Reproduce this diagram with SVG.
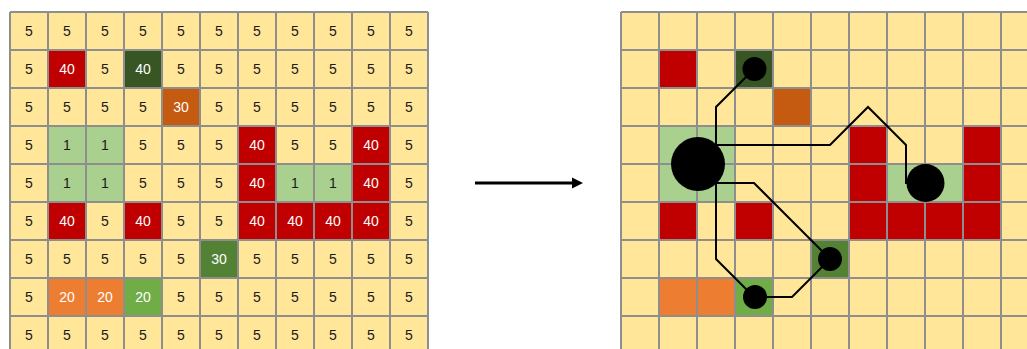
<svg xmlns="http://www.w3.org/2000/svg" width="1027" height="349" viewBox="0 0 1027 349">
<style>
.bg{fill:#FFE699}
.grid{stroke:#8E8E8E;stroke-width:2;fill:none}
.red{fill:#C00000}.dg{fill:#375623}.br{fill:#C55A11}.lg{fill:#A9D08E}.g30{fill:#548235}.or{fill:#ED7D31}.g20{fill:#70AD47}
text{font-family:"Liberation Sans",Arial,sans-serif;font-size:14px;text-anchor:middle;fill:#1a1a1a}
text.w{fill:#ffffff}
.ln{stroke:#000;stroke-width:2;fill:none;stroke-linejoin:miter}
</style>
<defs>
<g id="cells">
<rect class="red" x="48" y="50" width="38" height="38"/>
<rect class="dg" x="124" y="50" width="38" height="38"/>
<rect class="br" x="162" y="88" width="38" height="38"/>
<rect class="lg" x="48" y="126" width="76" height="76"/>
<rect class="red" x="238" y="126" width="38" height="114"/>
<rect class="red" x="352" y="126" width="38" height="114"/>
<rect class="lg" x="276" y="164" width="76" height="38"/>
<rect class="red" x="276" y="202" width="76" height="38"/>
<rect class="red" x="48" y="202" width="38" height="38"/>
<rect class="red" x="124" y="202" width="38" height="38"/>
<rect class="g30" x="200" y="240" width="38" height="38"/>
<rect class="or" x="48" y="278" width="76" height="38"/>
<rect class="g20" x="124" y="278" width="38" height="38"/>
</g>
<path id="lines" class="grid" d="M10 12V354M48 12V354M86 12V354M124 12V354M162 12V354M200 12V354M238 12V354M276 12V354M314 12V354M352 12V354M390 12V354M428 12V354M10 12H428M10 50H428M10 88H428M10 126H428M10 164H428M10 202H428M10 240H428M10 278H428M10 316H428M10 354H428"/>
</defs>
<g id="grid-left">
<rect class="bg" x="10" y="12" width="418" height="342"/>
<use href="#cells"/>
<use href="#lines"/>
<g id="values">
<text x="29" y="36">5</text><text x="67" y="36">5</text><text x="105" y="36">5</text><text x="143" y="36">5</text><text x="181" y="36">5</text><text x="219" y="36">5</text><text x="257" y="36">5</text><text x="295" y="36">5</text><text x="333" y="36">5</text><text x="371" y="36">5</text><text x="409" y="36">5</text>
<text x="29" y="74">5</text><text class="w" x="67" y="74">40</text><text x="105" y="74">5</text><text class="w" x="143" y="74">40</text><text x="181" y="74">5</text><text x="219" y="74">5</text><text x="257" y="74">5</text><text x="295" y="74">5</text><text x="333" y="74">5</text><text x="371" y="74">5</text><text x="409" y="74">5</text>
<text x="29" y="112">5</text><text x="67" y="112">5</text><text x="105" y="112">5</text><text x="143" y="112">5</text><text class="w" x="181" y="112">30</text><text x="219" y="112">5</text><text x="257" y="112">5</text><text x="295" y="112">5</text><text x="333" y="112">5</text><text x="371" y="112">5</text><text x="409" y="112">5</text>
<text x="29" y="150">5</text><text x="67" y="150">1</text><text x="105" y="150">1</text><text x="143" y="150">5</text><text x="181" y="150">5</text><text x="219" y="150">5</text><text class="w" x="257" y="150">40</text><text x="295" y="150">5</text><text x="333" y="150">5</text><text class="w" x="371" y="150">40</text><text x="409" y="150">5</text>
<text x="29" y="188">5</text><text x="67" y="188">1</text><text x="105" y="188">1</text><text x="143" y="188">5</text><text x="181" y="188">5</text><text x="219" y="188">5</text><text class="w" x="257" y="188">40</text><text x="295" y="188">1</text><text x="333" y="188">1</text><text class="w" x="371" y="188">40</text><text x="409" y="188">5</text>
<text x="29" y="226">5</text><text class="w" x="67" y="226">40</text><text x="105" y="226">5</text><text class="w" x="143" y="226">40</text><text x="181" y="226">5</text><text x="219" y="226">5</text><text class="w" x="257" y="226">40</text><text class="w" x="295" y="226">40</text><text class="w" x="333" y="226">40</text><text class="w" x="371" y="226">40</text><text x="409" y="226">5</text>
<text x="29" y="264">5</text><text x="67" y="264">5</text><text x="105" y="264">5</text><text x="143" y="264">5</text><text x="181" y="264">5</text><text class="w" x="219" y="264">30</text><text x="257" y="264">5</text><text x="295" y="264">5</text><text x="333" y="264">5</text><text x="371" y="264">5</text><text x="409" y="264">5</text>
<text x="29" y="302">5</text><text class="w" x="67" y="302">20</text><text class="w" x="105" y="302">20</text><text class="w" x="143" y="302">20</text><text x="181" y="302">5</text><text x="219" y="302">5</text><text x="257" y="302">5</text><text x="295" y="302">5</text><text x="333" y="302">5</text><text x="371" y="302">5</text><text x="409" y="302">5</text>
<text x="29" y="340">5</text><text x="67" y="340">5</text><text x="105" y="340">5</text><text x="143" y="340">5</text><text x="181" y="340">5</text><text x="219" y="340">5</text><text x="257" y="340">5</text><text x="295" y="340">5</text><text x="333" y="340">5</text><text x="371" y="340">5</text><text x="409" y="340">5</text>
</g>
</g>
<g id="grid-right">
<rect class="bg" x="621" y="12" width="418" height="342"/>
<use href="#cells" x="611"/>
<use href="#lines" x="611"/>
</g>
<g id="connectors">
<line x1="475" y1="183" x2="574" y2="183" stroke="#000" stroke-width="3"/>
<polygon points="572,177.5 583,183 572,188.5" fill="#000"/>
<polyline class="ln" points="754,69 716,107 716,164"/>
<polyline class="ln" points="716,145 830,145 868,107 906,145 906,183 925,183"/>
<polyline class="ln" points="697,183 754,183 830,259"/>
<polyline class="ln" points="716,164 716,259 754,297"/>
<polyline class="ln" points="754,297 792,297 830,259"/>
</g>
<g id="node-big"><circle cx="698" cy="164" r="27"/></g>
<g id="node-top"><circle cx="754.5" cy="69" r="12"/></g>
<g id="node-right"><circle cx="925.5" cy="183" r="19"/></g>
<g id="node-mid"><circle cx="830" cy="259" r="12"/></g>
<g id="node-bottom"><circle cx="755" cy="297" r="12"/></g>
</svg>
